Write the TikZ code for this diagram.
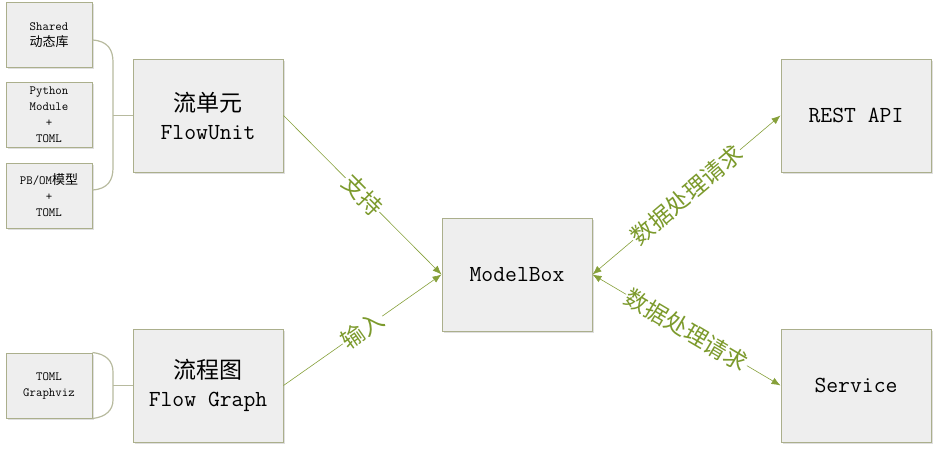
\documentclass[tikz,border=0pt]{standalone}
\usepackage{fontspec}
\newfontfamily\cjk{Noto Sans CJK SC}
\usetikzlibrary{arrows.meta,shadows}
\definecolor{boxfill}{HTML}{EEEEEE}
\definecolor{boxline}{HTML}{ABAF8C}
\definecolor{arrowc}{HTML}{86A03A}
\definecolor{labelc}{HTML}{7C9A2C}
\definecolor{bracec}{HTML}{B7BA9E}
\begin{document}
\begin{tikzpicture}[x=1pt,y=-1pt,
  boxbase/.style={draw=boxline,fill=boxfill,line width=1pt,inner sep=0pt,align=center,
    drop shadow={shadow xshift=1.5pt,shadow yshift=-1.5pt,opacity=0.25}},
  smallbox/.style={boxbase,minimum width=86pt,minimum height=65pt,font=\ttfamily\fontsize{12.5}{16}\selectfont},
  bigbox/.style={boxbase,minimum width=150pt,minimum height=113pt,font=\ttfamily\fontsize{23}{28}\selectfont},
  brace/.style={draw=bracec,line width=1.2pt},
  arr/.style={draw=arrowc,line width=0.6pt,-{Latex[length=9pt,width=7pt]}},
  darr/.style={draw=arrowc,line width=0.6pt,{Latex[length=9pt,width=7pt]}-{Latex[length=9pt,width=7pt]}},
  lbl/.style={fill=white,text=labelc,inner sep=1pt,font=\cjk\fontsize{23}{23}\selectfont,sloped,midway}
]
\useasboundingbox (0,0) rectangle (937,450);

\node[smallbox] (sh) at (49,35) {Shared\\{\cjk\fontsize{13}{16}\selectfont 动态库}};
\node[smallbox] (py) at (49,114.5) {Python\\Module\\+\\TOML};
\node[smallbox] (pb) at (49,195.5) {PB/OM{\cjk\fontsize{13}{16}\selectfont 模型}\\+\\TOML};
\node[smallbox] (tg) at (49,385.5) {TOML\\Graphviz};

\node[bigbox] (fu) at (208,115.5) {{\cjk\fontsize{23}{28}\selectfont 流单元}\\FlowUnit};
\node[bigbox] (fg) at (208,385.5) {{\cjk\fontsize{23}{28}\selectfont 流程图}\\Flow Graph};
\node[bigbox] (mb) at (517,274.5) {ModelBox};
\node[bigbox] (rest) at (856,115.5) {REST API};
\node[bigbox] (svc) at (856,385.5) {Service};

% braces
\coordinate (j1) at (113,115.5);
\coordinate (j2) at (113,385.5);
\draw[brace] ([yshift=-5pt]sh.east) .. controls (108,41) and (113,50) .. (113,62)
  -- (113,168) .. controls (113,180) and (108,189) .. ([yshift=5.5pt]pb.east);
\draw[brace] (j1) -- (fu.west);
\draw[brace] (tg.north east) .. controls (106,354) and (113,361) .. (113,372)
  -- (113,400) .. controls (113,410) and (106,417) .. (tg.south east);
\draw[brace] (j2) -- (fg.west);

% arrows
\draw[arr] (fu.east) -- node[lbl]{支持} (mb.west);
\draw[arr] (fg.east) -- node[lbl]{输入} (mb.west);
\draw[darr] (mb.east) -- node[lbl]{数据处理请求} (rest.west);
\draw[darr] (mb.east) -- node[lbl]{数据处理请求} (svc.west);
\end{tikzpicture}
\end{document}
